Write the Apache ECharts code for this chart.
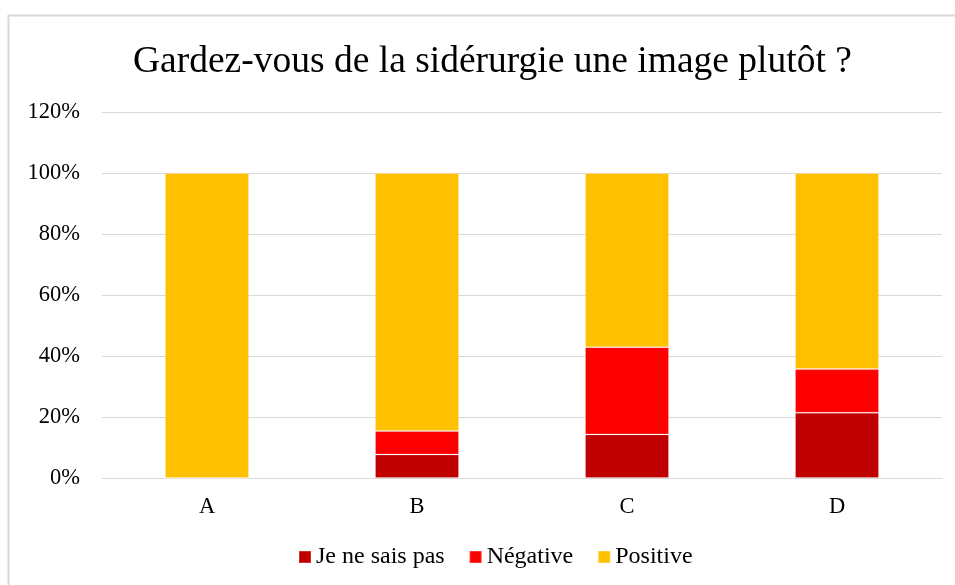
<!DOCTYPE html>
<html>
<head>
<meta charset="utf-8">
<script src="https://cdn.jsdelivr.net/npm/echarts@6/dist/echarts.min.js"></script>
<style>
  html, body { margin: 0; padding: 0; background: #ffffff; }
  #chart { width: 955px; height: 585px; }
</style>
</head>
<body>
<div id="chart"></div>
<script>
// Survey answers per group, in percent
const categories = ['A', 'B', 'C', 'D'];
const nsp = [0, 7.7, 14.3, 21.4];        // Je ne sais pas
const negative = [0, 7.7, 28.6, 14.3];   // Négative
const positive = [100, 84.6, 57.1, 64.3]; // Positive
const yTicks = [0, 20, 40, 60, 80, 100, 120];

const font = '"Liberation Serif", "Times New Roman", serif';
const chart = echarts.init(document.getElementById('chart'));

const segBorder = { borderColor: 'rgba(255,255,255,0.2)', borderWidth: 1 };

chart.setOption({
  animation: false,
  backgroundColor: '#ffffff',
  textStyle: { fontFamily: font },
  title: {
    text: 'Gardez-vous de la sidérurgie une image plutôt ?',
    left: 128,
    top: 38,
    textStyle: { fontFamily: font, fontSize: 37.5, fontWeight: 'normal', color: '#000000' }
  },
  graphic: [{
    type: 'rect',
    shape: { x: 8.5, y: 15.5, width: 970, height: 620 },
    style: { fill: 'none', stroke: '#d9d9d9', lineWidth: 2 },
    silent: true
  }],
  legend: {
    bottom: 11,
    left: 293,
    itemWidth: 12,
    itemHeight: 12,
    itemGap: 24,
    icon: 'rect',
    textStyle: { fontFamily: font, fontSize: 24, color: '#000000' },
    data: ['Je ne sais pas', 'Négative', 'Positive']
  },
  grid: { left: 102, right: 13, top: 112, bottom: 107 },
  xAxis: {
    type: 'category',
    data: categories,
    axisLine: { lineStyle: { color: '#d9d9d9', width: 1 } },
    axisTick: { show: false },
    axisLabel: { fontFamily: font, fontSize: 22.5, color: '#000000', margin: 18 }
  },
  yAxis: {
    type: 'value',
    min: yTicks[0],
    max: yTicks[yTicks.length - 1],
    interval: 20,
    axisLine: { show: false },
    axisTick: { show: false },
    splitLine: { lineStyle: { color: '#d9d9d9', width: 1 } },
    axisLabel: {
      fontFamily: font, fontSize: 22.5, color: '#000000', margin: 22,
      formatter: v => v + '%'
    }
  },
  series: [
    { name: 'Je ne sais pas', type: 'bar', stack: 'total', data: nsp,
      barCategoryGap: '60%', itemStyle: Object.assign({ color: '#c00000' }, segBorder) },
    { name: 'Négative', type: 'bar', stack: 'total', data: negative,
      barCategoryGap: '60%', itemStyle: Object.assign({ color: '#ff0000' }, segBorder) },
    { name: 'Positive', type: 'bar', stack: 'total', data: positive,
      barCategoryGap: '60%', itemStyle: Object.assign({ color: '#ffc000' }, segBorder) }
  ]
});
</script>
</body>
</html>
